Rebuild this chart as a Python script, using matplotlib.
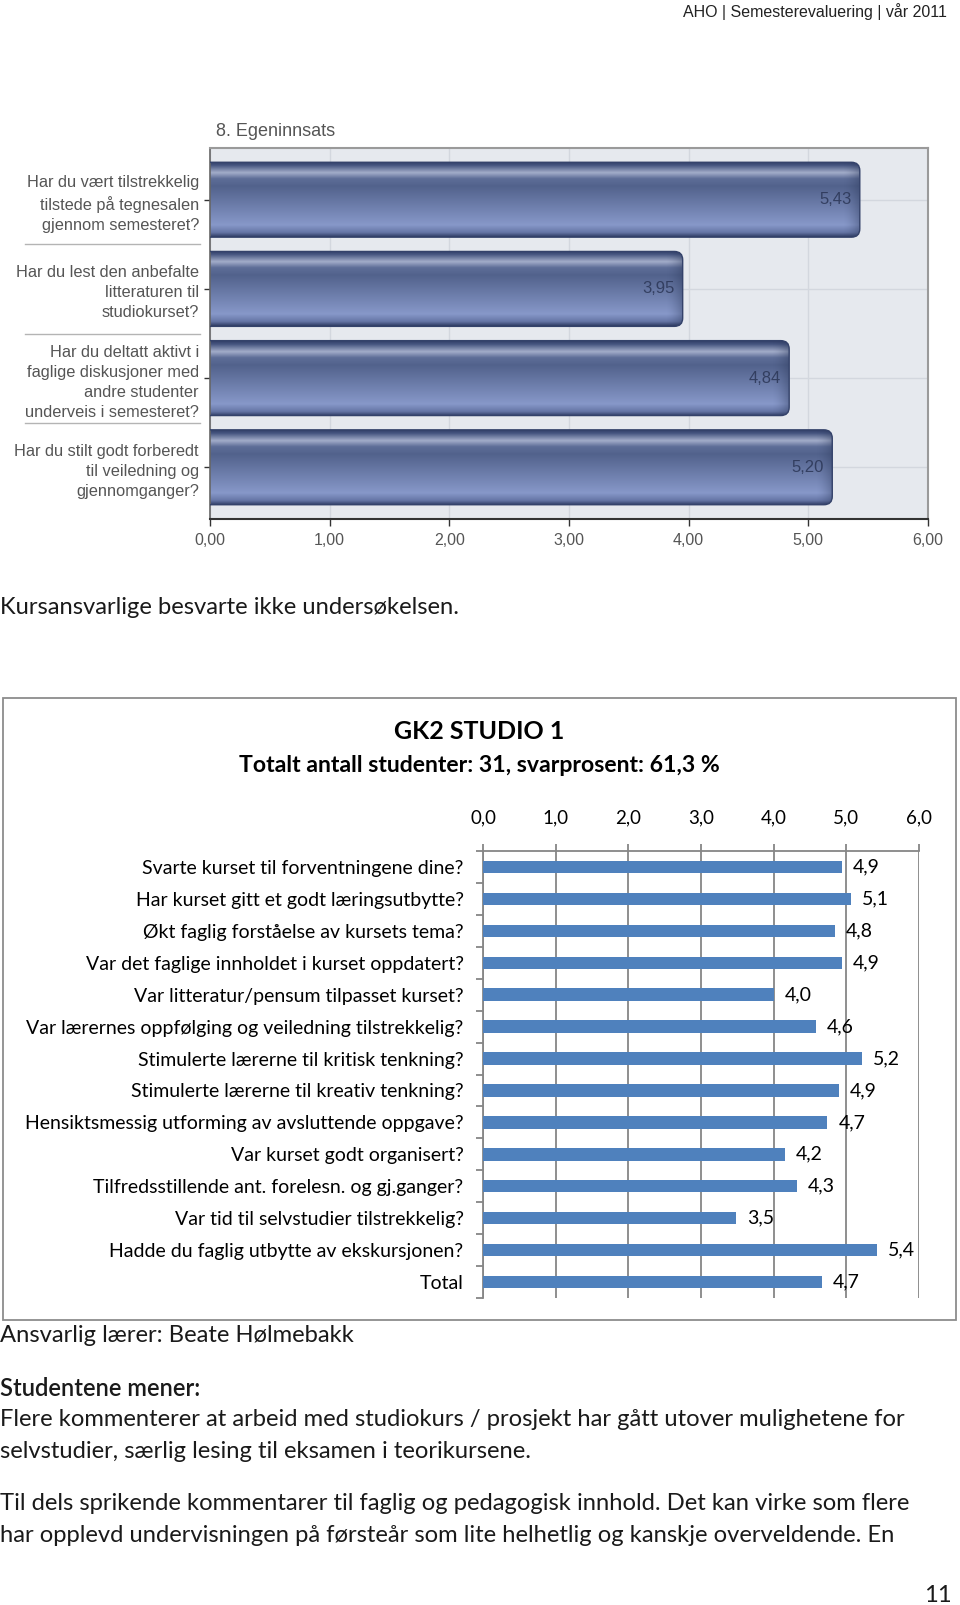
import numpy as np
import matplotlib
matplotlib.use("Agg")
import matplotlib.pyplot as plt
from matplotlib.colors import LinearSegmentedColormap
from matplotlib.patches import FancyBboxPatch, Rectangle
from matplotlib.transforms import blended_transform_factory

W, H = 960, 1605

# ---------------------------------------------------------------------------
# Data
# ---------------------------------------------------------------------------
header = "AHO | Semesterevaluering | vår 2011"
page_no = "11"

ege_title = "8. Egeninnsats"
ege_questions = [
    "Har du vært tilstrekkelig\ntilstede på tegnesalen\ngjennom semesteret?",
    "Har du lest den anbefalte\nlitteraturen til\nstudiokurset?",
    "Har du deltatt aktivt i\nfaglige diskusjoner med\nandre studenter\nunderveis i semesteret?",
    "Har du stilt godt forberedt\ntil veiledning og\ngjennomganger?",
]
ege_values = [5.43, 3.95, 4.84, 5.20]
ege_ticks = [0, 1, 2, 3, 4, 5, 6]

gk2_title = "GK2 STUDIO 1"
gk2_subtitle = "Totalt antall studenter: 31, svarprosent: 61,3 %"
gk2_questions = [
    "Svarte kurset til forventningene dine?",
    "Har kurset gitt et godt læringsutbytte?",
    "Økt faglig forståelse av kursets tema?",
    "Var det faglige innholdet i kurset oppdatert?",
    "Var litteratur/pensum tilpasset kurset?",
    "Var lærernes oppfølging og veiledning tilstrekkelig?",
    "Stimulerte lærerne til kritisk tenkning?",
    "Stimulerte lærerne til kreativ tenkning?",
    "Hensiktsmessig utforming av avsluttende oppgave?",
    "Var kurset godt organisert?",
    "Tilfredsstillende ant. forelesn. og gj.ganger?",
    "Var tid til selvstudier tilstrekkelig?",
    "Hadde du faglig utbytte av ekskursjonen?",
    "Total",
]
gk2_values = [4.94, 5.06, 4.84, 4.94, 4.00, 4.58, 5.22,
              4.90, 4.74, 4.16, 4.32, 3.48, 5.42, 4.66]
gk2_ticks = [0, 1, 2, 3, 4, 5, 6]

note_text = "Kursansvarlige besvarte ikke undersøkelsen."
teacher_text = "Ansvarlig lærer: Beate Hølmebakk"
comments_head = "Studentene mener:"
comments = [
    "Flere kommenterer at arbeid med studiokurs / prosjekt har gått utover mulighetene for",
    "selvstudier, særlig lesing til eksamen i teorikursene.",
    "Til dels sprikende kommentarer til faglig og pedagogisk innhold. Det kan virke som flere",
    "har opplevd undervisningen på førsteår som lite helhetlig og kanskje overveldende. En",
]


def fx(px):
    return px / W


def fy(py):
    return 1 - py / H


BODY = ["Lato", "DejaVu Sans"]
ARIAL = ["Liberation Sans", "DejaVu Sans"]
TXT = "#1a1a1a"
BODY_SIZE = 17.1

fig = plt.figure(figsize=(W / 100, H / 100), dpi=100)
fig.patch.set_facecolor("white")

# header
fig.text(fx(947), fy(12), header, ha="right", va="center",
         fontsize=11.5, family=ARIAL, color="#222222")

# ---------------------------------------------------------------------------
# Top chart: 8. Egeninnsats (glossy rounded bars)
# ---------------------------------------------------------------------------
ax1 = fig.add_axes([fx(210), fy(519), (928 - 210) / W, (519 - 148) / H])
ax1.set_facecolor("#e6e9ee")

bar_cmap = LinearSegmentedColormap.from_list("gloss", [
    (0.00, "#33416a"), (0.04, "#45547f"), (0.14, "#a3adca"),
    (0.22, "#5e6e98"), (0.32, "#52628c"), (0.84, "#8798c9"),
    (0.94, "#6676a6"), (1.00, "#2f3c63"),
])
grad = np.linspace(0, 1, 256).reshape(-1, 1)
edge_fade = np.zeros((1, 64, 4))
edge_fade[..., :3] = np.array([0.16, 0.21, 0.34])
edge_fade[..., 3] = np.linspace(0, 0.55, 64) ** 1.6

n1 = len(ege_values)
bh = 0.84
for i, v in enumerate(ege_values):
    yc = n1 - 1 - i
    y0 = yc - bh / 2
    box = FancyBboxPatch((-0.3, y0), v + 0.3, bh,
                         boxstyle="round,pad=0,rounding_size=0.07",
                         mutation_aspect=1.34, facecolor="none",
                         edgecolor="#34426a", lw=1.0, zorder=3)
    ax1.add_patch(box)
    im = ax1.imshow(grad, cmap=bar_cmap, extent=(-0.3, v, y0, y0 + bh),
                    origin="upper", aspect="auto", interpolation="bilinear",
                    zorder=2)
    im.set_clip_path(box)
    im2 = ax1.imshow(edge_fade, extent=(v - 0.14, v, y0, y0 + bh),
                     aspect="auto", interpolation="bilinear", zorder=2.5)
    im2.set_clip_path(box)
    ax1.text(v - 0.07, yc, f"{v:.2f}".replace(".", ","), ha="right",
             va="center", fontsize=12, family=ARIAL, color="#2b3656",
             alpha=0.85, zorder=4)

ax1.set_xlim(0, 6)
ax1.set_ylim(-0.58, n1 - 1 + 0.58)
ax1.set_xticks(ege_ticks)
ax1.set_xticklabels([f"{t:.2f}".replace(".", ",") for t in ege_ticks],
                    family=ARIAL, fontsize=11.5, color="#555555")
ax1.set_yticks(range(n1 - 1, -1, -1))
ax1.set_yticklabels(ege_questions, family=ARIAL, fontsize=11.8,
                    color="#555555", linespacing=1.42)
for lab in ax1.get_yticklabels():
    lab.set_multialignment("right")
ax1.tick_params(axis="x", length=5, width=1, color="#333333", pad=5)
ax1.tick_params(axis="y", length=4, width=1, color="#333333", pad=4)
ax1.grid(True, color="#d3d7de", lw=1.0, zorder=0)
ax1.set_axisbelow(True)
ax1.spines["bottom"].set_color("#333333")
ax1.spines["bottom"].set_linewidth(1.5)
ax1.spines["left"].set_color("#666666")
ax1.spines["left"].set_linewidth(1.2)
for s in ("top", "right"):
    ax1.spines[s].set_color("#9a9a9a")
    ax1.spines[s].set_linewidth(1.5)

# separators between the question labels
sep_tr = blended_transform_factory(fig.transFigure, ax1.transData)
for b in np.arange(0.5, n1 - 1, 1.0):
    ax1.plot([fx(25), fx(200)], [b, b], transform=sep_tr, clip_on=False,
             color="#b4b4b4", lw=1.0)

fig.text(fx(216), fy(131), ege_title, ha="left", va="center",
         fontsize=13, family=ARIAL, color="#555555")

# note
fig.text(fx(0), fy(607), note_text, ha="left", va="center",
         fontsize=BODY_SIZE, family=BODY, color=TXT)

# ---------------------------------------------------------------------------
# Bottom chart: GK2 STUDIO 1
# ---------------------------------------------------------------------------
fig.add_artist(Rectangle((fx(3), fy(1320)), fx(956) - fx(3), (1320 - 698) / H,
                         transform=fig.transFigure, fill=False,
                         edgecolor="#8c8c8c", lw=1.3))
fig.text(fx(479), fy(732), gk2_title, ha="center", va="center",
         fontsize=18, fontweight="bold", family=BODY, color="#000000")
fig.text(fx(479), fy(766), gk2_subtitle, ha="center", va="center",
         fontsize=16.6, fontweight="bold", family=BODY, color="#000000")

ax2 = fig.add_axes([fx(483), fy(1298), (919 - 483) / W, (1298 - 851) / H])
n2 = len(gk2_values)
ax2.barh(range(n2), gk2_values, height=0.39, color="#4f81bd", zorder=3)
for i, v in enumerate(gk2_values):
    ax2.text(v + 0.15, i, f"{v:.1f}".replace(".", ","), ha="left",
             va="center", fontsize=14, family=BODY, color="#000000", zorder=4)

ax2.set_xlim(0, 6)
ax2.set_ylim(n2 - 0.5, -0.5)
ax2.xaxis.tick_top()
ax2.set_xticks(gk2_ticks)
ax2.set_xticklabels([f"{t:.1f}".replace(".", ",") for t in gk2_ticks],
                    family=BODY, fontsize=13.5)
ax2.set_yticks(range(n2))
ax2.set_yticklabels(gk2_questions, family=BODY, fontsize=14)
ax2.set_yticks(np.arange(-0.5, n2, 1.0), minor=True)
ax2.tick_params(axis="y", which="major", length=0, pad=14)
ax2.tick_params(axis="y", which="minor", length=5, width=1.3, color="#868686")
ax2.tick_params(axis="x", length=5, width=1.3, color="#868686", pad=13)
ax2.grid(axis="x", color="#868686", lw=1.3, zorder=0)
ax2.set_axisbelow(True)
for s in ("right", "bottom"):
    ax2.spines[s].set_visible(False)
for s in ("top", "left"):
    ax2.spines[s].set_color("#868686")
    ax2.spines[s].set_linewidth(1.3)

# ---------------------------------------------------------------------------
# Body text
# ---------------------------------------------------------------------------
fig.text(fx(0), fy(1336), teacher_text, ha="left", va="center",
         fontsize=BODY_SIZE, family=BODY, color=TXT)
fig.text(fx(0), fy(1389), comments_head, ha="left", va="center",
         fontsize=BODY_SIZE, family=BODY, fontweight="semibold", color=TXT)
for y, line in zip([1420, 1451, 1503, 1535], comments):
    fig.text(fx(0), fy(y), line, ha="left", va="center",
             fontsize=BODY_SIZE, family=BODY, color=TXT)
fig.text(fx(952), fy(1595), page_no, ha="right", va="center",
         fontsize=BODY_SIZE, family=BODY, color=TXT)

fig.savefig("out.png", dpi=100)
